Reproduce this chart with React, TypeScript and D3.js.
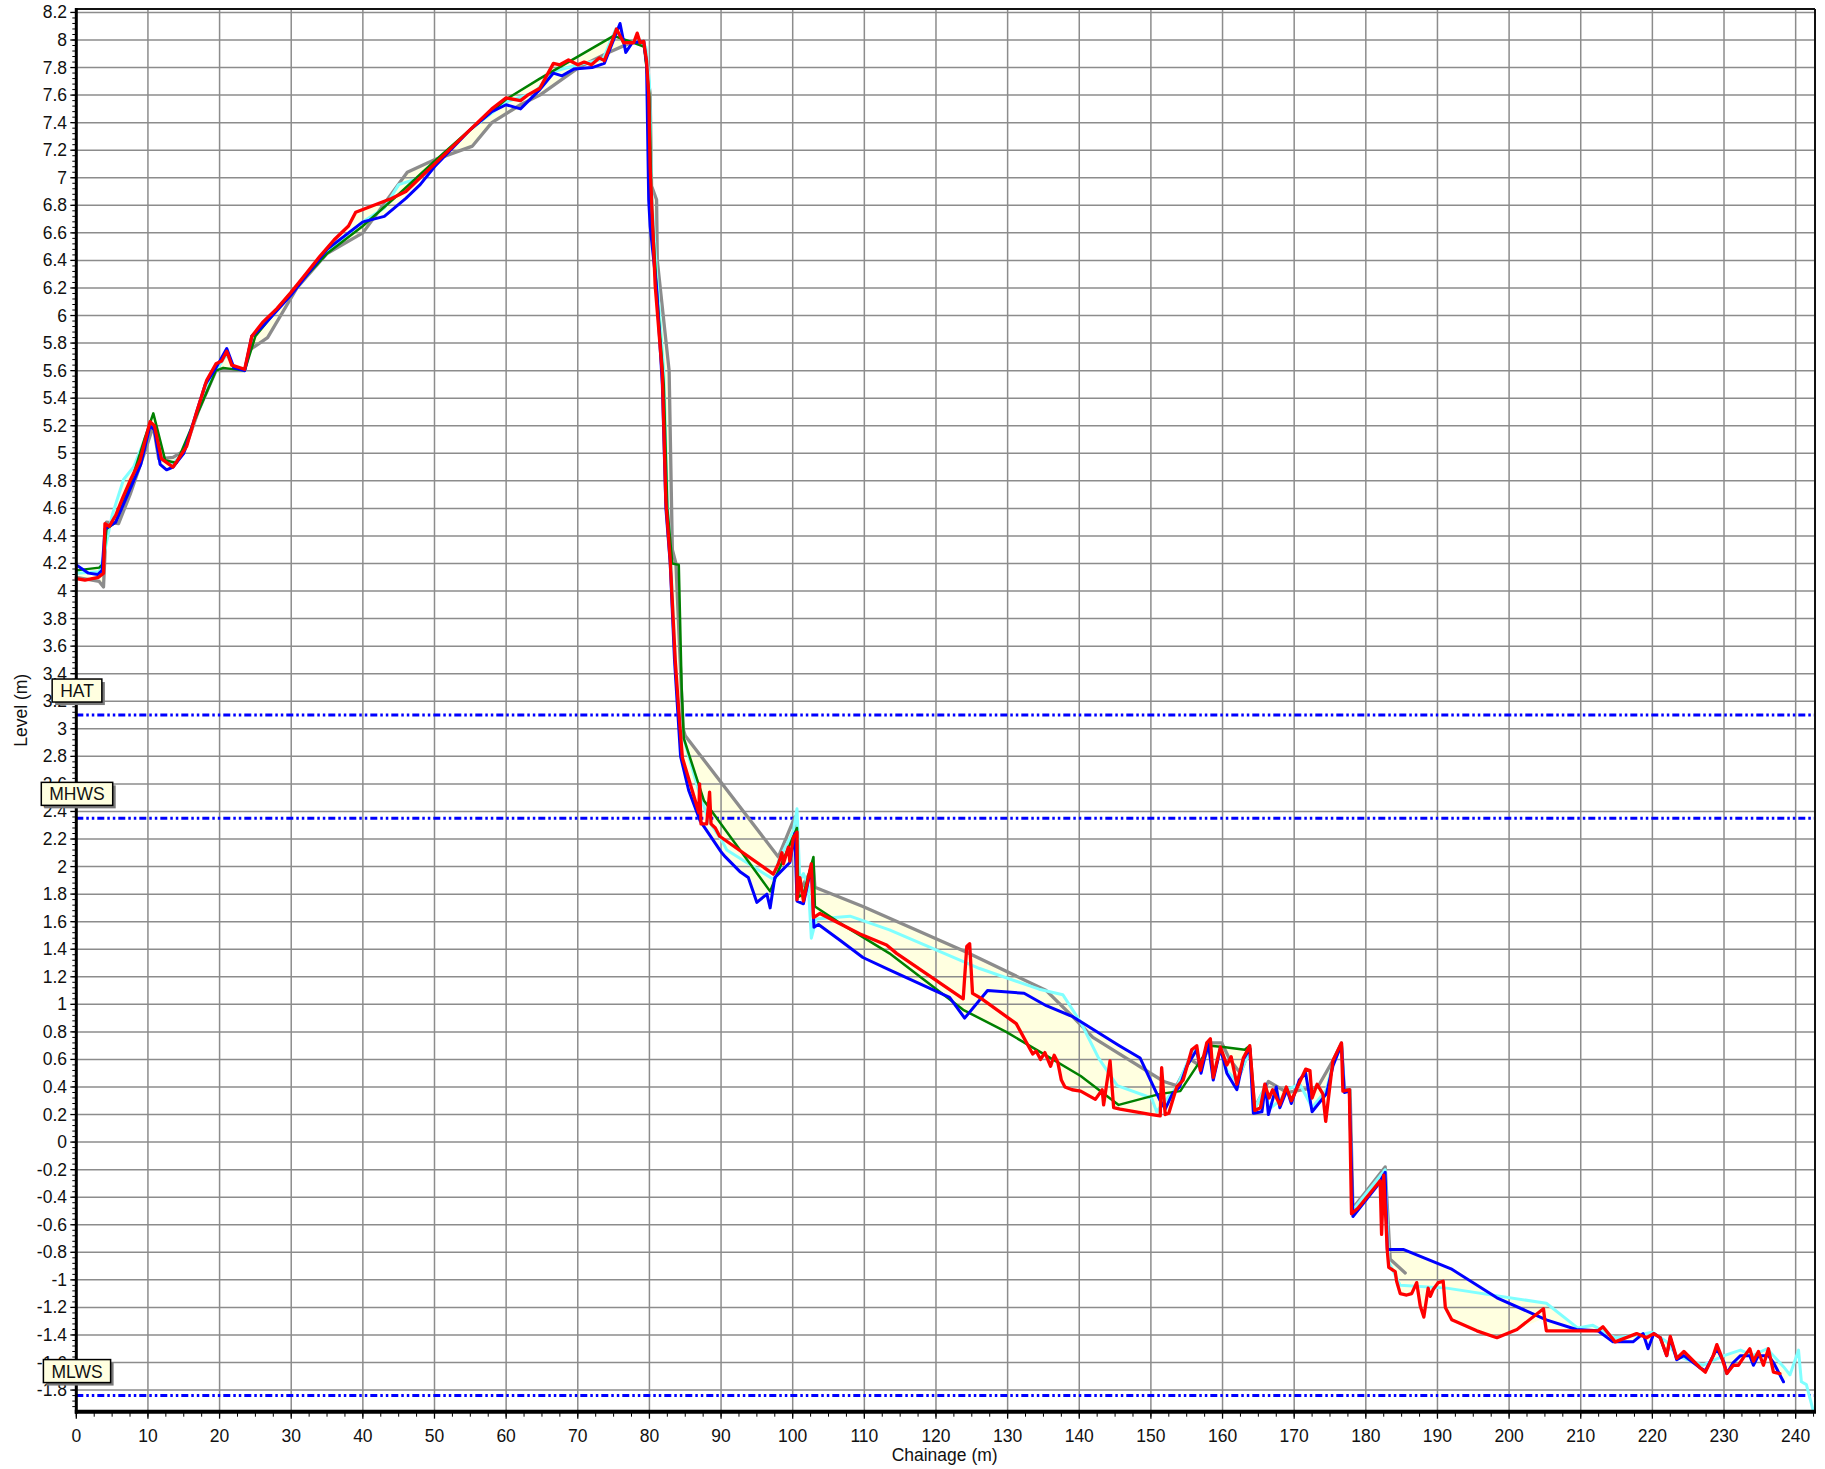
import React, { useMemo } from "react";
import * as d3 from "d3";

type Pt = [number, number];

// Axis ticks
const chainageTicks: number[] = d3.range(0, 241, 10);
const chainageMinor: number[] = d3.range(0, 242.6, 2.5);
const levelTicks: number[] = d3.range(-9, 42).map((i) => i / 5);
const levelMinor: number[] = d3.range(-49, 206).map((i) => i / 25);

// Tidal reference levels
const tideNames: string[] = ["HAT", "MHWS", "MLWS"];
const tideLevels: number[] = [3.1, 2.35, -1.84];

// Beach profile surveys: [chainage (m), level (m)]
const profileGray: Pt[] = [
  [0, 4.1], [3.2, 4.07], [3.8, 4.03], [4.2, 4.5], [5.9, 4.49], [7.5, 4.7], [9.5, 5.0], [10.75, 5.2],
  [11.5, 4.96], [13.5, 4.97], [15.1, 5.02], [17, 5.3], [19.5, 5.6], [23.5, 5.6], [24.2, 5.75], [26.7, 5.84],
  [30.8, 6.2], [35, 6.45], [40, 6.6], [46.2, 7.04], [50, 7.13], [55.3, 7.23], [58, 7.4], [62, 7.53],
  [64.7, 7.6], [70.1, 7.8], [74.3, 7.91], [77.8, 7.99], [79.2, 7.99], [80.1, 7.61], [80.3, 6.94], [81, 6.84],
  [81.1, 6.4], [82.75, 5.6], [83.2, 4.3], [83.7, 4.2], [84.7, 3.0], [85, 2.95], [98, 2.07], [100.3, 2.36],
  [100.7, 1.8], [102.9, 2.0], [103.1, 1.85], [109.8, 1.71], [124.2, 1.38], [135.4, 1.1], [139.1, 0.91],
  [141.9, 0.76], [145.6, 0.64], [151.8, 0.44], [153.6, 0.41], [155.5, 0.6], [157, 0.55], [158.3, 0.72],
  [159.9, 0.72], [161, 0.6], [162.5, 0.5], [163.8, 0.68], [164.5, 0.25], [166.4, 0.44], [169, 0.36],
  [173.3, 0.4], [175.5, 0.6], [176.6, 0.72], [177, 0.38], [177.8, 0.38], [178.2, -0.48], [182.7, -0.18],
  [183.4, -0.85], [185.5, -0.95],
];

const profileCyan: Pt[] = [
  [0, 4.13], [3.2, 4.14], [3.8, 4.25], [5, 4.55], [6.6, 4.81], [8, 4.9], [10.3, 5.2], [11, 5.2], [12, 4.95],
  [13.5, 4.93], [15, 5.0], [18, 5.48], [19.5, 5.6], [21, 5.72], [22, 5.62], [23.5, 5.6], [24.5, 5.85],
  [26, 5.93], [30, 6.16], [35, 6.47], [40, 6.68], [43, 6.78], [45, 6.95], [48, 7.0], [50, 7.1], [55, 7.35],
  [60, 7.55], [64, 7.62], [66.5, 7.77], [70, 7.82], [73.5, 7.86], [75.3, 8.08], [76.5, 7.97], [78, 7.99],
  [79.5, 7.95], [80, 7.7], [80.3, 6.9], [81, 6.3], [82, 5.6], [82.5, 4.65], [83, 4.2], [83.8, 3.3],
  [84.35, 3.01], [86.7, 2.58], [88.3, 2.33], [90.1, 2.19], [90.8, 2.12], [97.5, 1.9], [98, 2.04],
  [100.1, 2.26], [100.6, 2.42], [101, 1.9], [101.5, 1.95], [102.2, 1.85], [102.6, 1.48], [103.3, 1.62],
  [108, 1.64], [113.5, 1.54], [126.1, 1.26], [134.4, 1.11], [137.7, 1.07], [140.2, 0.87], [142.7, 0.61],
  [145.3, 0.41], [150.1, 0.32], [150.8, 0.22], [152, 0.3], [153.6, 0.4], [155.7, 0.65], [156.4, 0.68],
  [157, 0.52], [158, 0.72], [158.7, 0.47], [159.7, 0.68], [160.6, 0.52], [162, 0.44], [163.8, 0.66],
  [164.4, 0.23], [165.9, 0.4], [166.5, 0.24], [168, 0.3], [169, 0.38], [170.8, 0.42], [172.5, 0.25],
  [174.5, 0.38], [175.4, 0.57], [176.6, 0.7], [177, 0.37], [177.7, 0.37], [178.1, -0.5], [182.7, -0.2],
  [183.2, -0.87], [184.8, -1.04], [191.3, -1.06], [205.2, -1.17], [209.6, -1.35], [211.7, -1.33],
  [214.8, -1.42], [218, -1.4], [220, -1.38], [222, -1.45], [223.4, -1.55], [227, -1.62], [230, -1.55],
  [232.3, -1.51], [234, -1.55], [236, -1.5], [238.3, -1.63], [239.2, -1.69], [240.4, -1.51], [240.8, -1.74],
  [241.5, -1.76], [242.5, -1.96],
];

const profileGreen: Pt[] = [
  [0, 4.15], [3.2, 4.17], [3.8, 4.2], [4.2, 4.45], [5.5, 4.5], [7, 4.7], [8, 4.85], [9.5, 5.1],
  [10.75, 5.29], [12.4, 4.95], [14, 4.93], [17, 5.3], [19.5, 5.6], [20.5, 5.62], [23.5, 5.6], [25, 5.85],
  [30, 6.17], [35, 6.45], [40, 6.65], [45, 6.88], [50, 7.12], [55, 7.35], [60, 7.57], [64.7, 7.72],
  [75, 8.03], [77.8, 7.98], [79.3, 7.95], [80, 7.6], [80.3, 6.8], [81, 6.2], [82, 5.5], [82.5, 4.6],
  [83.2, 4.2], [84.1, 4.19], [84.5, 3.3], [84.8, 2.93], [87.6, 2.48], [96.85, 1.82], [97.8, 1.945],
  [100.6, 2.28], [100.8, 1.78], [101.5, 1.8], [102.9, 2.07], [103.1, 1.71], [107.5, 1.56], [113.5, 1.37],
  [123.8, 0.96], [129.8, 0.8], [135, 0.64], [140.2, 0.48], [145.5, 0.27], [151.3, 0.35], [154.1, 0.37],
  [158.3, 0.7], [160.1, 0.69], [163.1, 0.67], [163.8, 0.7], [164.5, 0.22],
];

const profileBlue: Pt[] = [
  [0, 4.19], [1.7, 4.13], [3.0, 4.12], [3.6, 4.15], [4.0, 4.45], [5.5, 4.5], [6.5, 4.62], [8, 4.8],
  [9, 4.92], [10.3, 5.2], [10.9, 5.17], [11.7, 4.92], [12.6, 4.88], [13.5, 4.9], [15, 5.0], [18, 5.5],
  [19.5, 5.62], [21, 5.76], [22, 5.62], [23.5, 5.6], [24.5, 5.85], [26, 5.92], [30, 6.15], [35, 6.48],
  [40, 6.68], [43, 6.72], [46, 6.85], [48, 6.95], [50, 7.08], [55, 7.35], [58, 7.48], [60, 7.53], [62, 7.5],
  [64.7, 7.64], [66.6, 7.76], [67.8, 7.74], [69.5, 7.79], [72, 7.8], [73.7, 7.83], [75.9, 8.12],
  [76.7, 7.91], [77.6, 7.98], [79.2, 7.99], [79.6, 7.83], [79.9, 6.84], [80.1, 6.65], [81, 6.2], [81.8, 5.5],
  [82.3, 4.6], [82.9, 4.2], [83.5, 3.5], [84.35, 2.8], [85.5, 2.55], [87.1, 2.33], [90.1, 2.1], [90.6, 2.07],
  [92.7, 1.96], [93.8, 1.92], [95, 1.74], [96.4, 1.8], [96.85, 1.7], [97.5, 1.92], [99.6, 2.03],
  [100.3, 2.24], [100.6, 1.75], [101.5, 1.73], [102.6, 2.0], [102.96, 1.56], [103.6, 1.58], [106.6, 1.465],
  [109.8, 1.34], [113.5, 1.25], [121.9, 1.05], [124, 0.9], [127.2, 1.1], [132.3, 1.08], [135.4, 0.99],
  [139.1, 0.91], [145.6, 0.7], [148.5, 0.61], [151.3, 0.3], [152, 0.24], [153, 0.35], [154, 0.4],
  [155, 0.55], [156.4, 0.67], [157, 0.5], [158, 0.72], [158.7, 0.45], [159.7, 0.68], [160.6, 0.5],
  [162, 0.38], [162.9, 0.6], [163.8, 0.68], [164.3, 0.21], [165.5, 0.22], [166, 0.42], [166.4, 0.2],
  [167.5, 0.4], [168, 0.25], [169, 0.38], [169.6, 0.28], [170.7, 0.45], [171.6, 0.5], [172.5, 0.22],
  [174.5, 0.35], [175.4, 0.55], [176.6, 0.71], [177, 0.36], [177.7, 0.37], [178.2, -0.54], [181.7, -0.31],
  [182.7, -0.22], [183, -0.78], [185.3, -0.78], [191.9, -0.92], [198.3, -1.13], [205.2, -1.29],
  [209.4, -1.36], [212.4, -1.37], [214.5, -1.45], [217.3, -1.45], [218.7, -1.39], [219.4, -1.5],
  [220.2, -1.39], [221.1, -1.42], [222, -1.55], [222.5, -1.42], [223.4, -1.58], [224.4, -1.55],
  [226.7, -1.64], [227.4, -1.66], [229, -1.5], [230, -1.6], [230.4, -1.68], [231.3, -1.6], [232.3, -1.55],
  [233.6, -1.55], [234.1, -1.62], [234.8, -1.55], [235.5, -1.55], [236.2, -1.55], [236.9, -1.6],
  [238.3, -1.74],
];

const profileRed: Pt[] = [
  [0, 4.09], [1.2, 4.08], [3.1, 4.1], [3.8, 4.13], [4.0, 4.49], [4.6, 4.47], [5.5, 4.55], [6.5, 4.68],
  [7.5, 4.8], [8.9, 4.95], [10.3, 5.23], [10.9, 5.2], [11.9, 4.96], [13.5, 4.9], [15.4, 5.05], [16.8, 5.3],
  [18.2, 5.53], [19.5, 5.65], [20.3, 5.67], [21, 5.74], [21.7, 5.64], [23.5, 5.61], [24.5, 5.85], [26, 5.95],
  [28, 6.05], [30, 6.17], [32, 6.3], [34, 6.43], [36, 6.55], [38, 6.65], [39, 6.75], [41, 6.79], [44, 6.85],
  [46, 6.9], [48, 7.0], [50, 7.1], [52, 7.2], [54, 7.3], [56, 7.4], [58, 7.5], [60, 7.58], [62, 7.56],
  [63, 7.6], [64.7, 7.65], [66.6, 7.83], [67.5, 7.82], [68.7, 7.855], [70, 7.82], [70.9, 7.84], [71.9, 7.82],
  [73, 7.87], [73.7, 7.85], [74.7, 7.98], [75.4, 8.08], [76.4, 7.98], [77.1, 7.98], [77.8, 7.98],
  [78.3, 8.05], [78.7, 7.98], [79.2, 7.99], [79.6, 7.85], [79.9, 7.61], [80.1, 7.08], [80.5, 6.6],
  [80.8, 6.22], [81.8, 5.58], [82.3, 4.65], [82.9, 4.23], [83.6, 3.5], [84.1, 3.13], [84.6, 2.79],
  [85.7, 2.6], [86.9, 2.39], [87.0, 2.6], [87.2, 2.31], [88.0, 2.31], [88.4, 2.54], [88.6, 2.31],
  [89.2, 2.28], [89.8, 2.22], [97.3, 1.945], [98.0, 2.02], [98.5, 2.1], [98.7, 2.02], [99.4, 2.14],
  [99.6, 2.04], [100.1, 2.21], [100.6, 2.25], [100.6, 1.76], [101.0, 1.92], [101.5, 1.75], [102.6, 2.02],
  [102.9, 1.63], [103.8, 1.66], [106.4, 1.59], [109.4, 1.51], [113.1, 1.43], [114.5, 1.37], [123.8, 1.04],
  [124.3, 1.42], [124.7, 1.44], [125.1, 1.08], [126.1, 1.05], [131.2, 0.86], [133.5, 0.64], [134, 0.66],
  [134.6, 0.6], [135.2, 0.65], [136, 0.55], [136.5, 0.63], [137, 0.58], [137.5, 0.45], [138, 0.4],
  [139, 0.38], [140.2, 0.37], [142.25, 0.31], [143.2, 0.38], [143.4, 0.27], [144.3, 0.59], [144.8, 0.25],
  [145.7, 0.24], [150.1, 0.2], [151.3, 0.19], [151.5, 0.54], [152, 0.2], [152.5, 0.21], [153.6, 0.4],
  [154.5, 0.45], [155.7, 0.67], [156.4, 0.7], [156.9, 0.52], [157.8, 0.72], [158.3, 0.75], [158.7, 0.47],
  [159.7, 0.69], [160.6, 0.56], [161.2, 0.62], [162, 0.42], [162.9, 0.61], [163.8, 0.7], [164.5, 0.23],
  [165.3, 0.25], [165.9, 0.42], [166.5, 0.32], [167, 0.38], [168, 0.27], [168.9, 0.4], [169.6, 0.3],
  [170.8, 0.44], [171.6, 0.53], [172.2, 0.52], [172.5, 0.32], [173.2, 0.42], [174, 0.35], [174.4, 0.15],
  [175.4, 0.59], [176.6, 0.72], [176.8, 0.37], [177.7, 0.38], [178, -0.52], [178.9, -0.48], [182, -0.28],
  [182.2, -0.67], [182.5, -0.24], [183, -0.79], [183.2, -0.91], [184.1, -0.94], [184.3, -1.01],
  [184.8, -1.1], [185.7, -1.11], [186.4, -1.1], [187.1, -1.02], [187.6, -1.19], [188.1, -1.27],
  [188.7, -1.06], [189, -1.12], [189.4, -1.07], [190.1, -1.02], [190.8, -1.01], [191.1, -1.2], [192, -1.29],
  [195.5, -1.37], [198.3, -1.42], [201.1, -1.36], [204.8, -1.21], [205, -1.3], [205.2, -1.37],
  [212.4, -1.37], [213.1, -1.34], [214.8, -1.45], [217.8, -1.39], [219.2, -1.42], [220.2, -1.39],
  [221.1, -1.42], [222, -1.55], [222.5, -1.41], [223.4, -1.57], [224.4, -1.52], [226.7, -1.64],
  [227.4, -1.67], [228.5, -1.55], [229, -1.47], [229.6, -1.55], [230.4, -1.68], [231.3, -1.62],
  [232, -1.62], [232.9, -1.55], [233.6, -1.5], [234.1, -1.59], [234.8, -1.52], [235.5, -1.62],
  [236.2, -1.5], [236.9, -1.67], [237.8, -1.68],
];

const seriesColors: string[] = ["#8c8c8c", "#80ffff", "#008000", "#0000ff", "#ff0000"];
const seriesWidths: number[] = [3.3, 3, 2.5, 3, 3.3];

const W = 1825;
const H = 1469;
const PLOT = { left: 76.3, right: 1815, top: 9, bottom: 1411.7 };
const FONT = "'Liberation Sans', Arial, Helvetica, sans-serif";
const FS = 17.5;

function interpAt(s: Pt[], xv: number): number | null {
  if (xv < s[0][0] || xv > s[s.length - 1][0]) return null;
  const i = d3.bisector((d: Pt) => d[0]).left(s, xv);
  if (s[i][0] === xv) return s[i][1];
  const a = s[i - 1];
  const b = s[i];
  return a[1] + ((b[1] - a[1]) * (xv - a[0])) / (b[0] - a[0]);
}

function textWidth(str: string, size: number): number {
  const c = document.createElement("canvas").getContext("2d");
  if (!c) return str.length * size * 0.65;
  c.font = `${size}px 'Liberation Sans', Arial, sans-serif`;
  return c.measureText(str).width;
}

const fmt = (v: number) => String(+v.toFixed(2));

export default function App() {
  const x = d3.scaleLinear().domain([0, 242.7]).range([PLOT.left, PLOT.right]);
  const y = d3.scaleLinear().domain([-1.957, 8.225]).range([PLOT.bottom, PLOT.top]);

  const series = [profileGray, profileCyan, profileGreen, profileBlue, profileRed];

  const line = d3
    .line<Pt>()
    .x((d) => x(d[0]))
    .y((d) => y(d[1]));

  const envelopePath = useMemo(() => {
    const xs = Array.from(new Set(series.flat().map((p) => p[0]))).sort((a, b) => a - b);
    const env = xs
      .map((xv) => {
        const vals = series.map((s) => interpAt(s, xv)).filter((v): v is number => v !== null);
        return { x: xv, lo: d3.min(vals) as number, hi: d3.max(vals) as number };
      })
      .filter((d) => d.lo !== undefined);
    return d3
      .area<{ x: number; lo: number; hi: number }>()
      .x((d) => x(d.x))
      .y0((d) => y(d.lo))
      .y1((d) => y(d.hi))(env);
  }, []);

  return (
    <div style={{ position: "absolute", left: 0, top: 0, background: "#fff" }}>
      <svg width={W} height={H} style={{ display: "block" }} fontFamily={FONT}>
        <rect x={0} y={0} width={W} height={H} fill="#ffffff" />

        {/* band between highest and lowest survey */}
        <path d={envelopePath || ""} fill="#ffffe0" stroke="none" />

        {/* grid */}
        <g stroke="#8c8c8c" strokeWidth={1.5}>
          {chainageTicks.map((t) => (
            <line key={`gx${t}`} x1={x(t)} x2={x(t)} y1={PLOT.top} y2={PLOT.bottom} />
          ))}
          {levelTicks.map((t) => (
            <line key={`gy${t}`} x1={PLOT.left} x2={PLOT.right} y1={y(t)} y2={y(t)} />
          ))}
        </g>

        {/* tide levels */}
        {tideLevels.map((lv, i) => (
          <line
            key={`tl${i}`}
            x1={PLOT.left}
            x2={PLOT.right}
            y1={y(lv)}
            y2={y(lv)}
            stroke="#0000ff"
            strokeWidth={3}
            strokeDasharray="7,3,2.5,3,2.5,3"
          />
        ))}

        {/* profiles */}
        {series.map((s, i) => (
          <path
            key={`s${i}`}
            d={line(s) || ""}
            fill="none"
            stroke={seriesColors[i]}
            strokeWidth={seriesWidths[i]}
            strokeLinejoin="round"
            strokeLinecap="round"
          />
        ))}

        {/* frame */}
        <line x1={PLOT.left} x2={PLOT.right} y1={PLOT.top} y2={PLOT.top} stroke="#111" strokeWidth={2} />
        <line x1={PLOT.right} x2={PLOT.right} y1={PLOT.top} y2={PLOT.bottom} stroke="#111" strokeWidth={2} />
        <line x1={PLOT.left} x2={PLOT.left} y1={PLOT.top - 1} y2={PLOT.bottom + 2} stroke="#000" strokeWidth={3} />
        <line x1={PLOT.left - 1.5} x2={PLOT.right + 1} y1={PLOT.bottom} y2={PLOT.bottom} stroke="#000" strokeWidth={4} />

        {/* y ticks */}
        <g stroke="#000" strokeWidth={1}>
          {levelMinor
            .filter((t) => y(t) >= PLOT.top && y(t) <= PLOT.bottom - 2)
            .map((t) => (
              <line key={`ym${t}`} x1={PLOT.left - 4} x2={PLOT.left} y1={y(t)} y2={y(t)} />
            ))}
          {levelTicks.map((t) => (
            <line key={`yt${t}`} x1={PLOT.left - 6} x2={PLOT.left} y1={y(t)} y2={y(t)} strokeWidth={1.3} />
          ))}
        </g>
        <g fontSize={FS} fill="#111" textAnchor="end">
          {levelTicks.map((t) => (
            <text key={`yl${t}`} x={67} y={y(t)} dominantBaseline="central">
              {fmt(t)}
            </text>
          ))}
        </g>

        {/* x ticks */}
        <g stroke="#000" strokeWidth={1}>
          {chainageMinor.map((t) => (
            <line key={`xm${t}`} x1={x(t)} x2={x(t)} y1={PLOT.bottom} y2={PLOT.bottom + 5} />
          ))}
          {chainageTicks.map((t) => (
            <line key={`xt${t}`} x1={x(t)} x2={x(t)} y1={PLOT.bottom} y2={PLOT.bottom + 7} strokeWidth={1.3} />
          ))}
        </g>
        <g fontSize={FS} fill="#111" textAnchor="middle">
          {chainageTicks.map((t) => (
            <text key={`xl${t}`} x={x(t)} y={1442}>
              {fmt(t)}
            </text>
          ))}
        </g>

        {/* axis titles */}
        <text
          x={PLOT.left + (PLOT.right - PLOT.left) / 2 - 1}
          y={1455}
          fontSize={FS}
          fill="#111"
          textAnchor="middle"
          dominantBaseline="central"
        >
          Chainage (m)
        </text>
        <text
          transform={`translate(20.5, ${(PLOT.top + PLOT.bottom) / 2}) rotate(-90)`}
          fontSize={FS}
          fill="#111"
          textAnchor="middle"
          dominantBaseline="central"
        >
          Level (m)
        </text>

        {/* tide level tags */}
        {tideNames.map((name, i) => {
          const w = textWidth(name, FS) + 16;
          const h = 23;
          const cx = 77;
          const by = y(tideLevels[i]) - 13;
          return (
            <g key={`tag${name}`}>
              <rect x={cx - w / 2 + 3} y={by - h + 3} width={w} height={h} fill="#7a7a7a" />
              <rect x={cx - w / 2} y={by - h} width={w} height={h} fill="#ffffe0" stroke="#000" strokeWidth={1.5} />
              <text x={cx} y={by - h / 2 + 0.5} fontSize={FS} fill="#111" textAnchor="middle" dominantBaseline="central">
                {name}
              </text>
            </g>
          );
        })}
      </svg>
    </div>
  );
}
